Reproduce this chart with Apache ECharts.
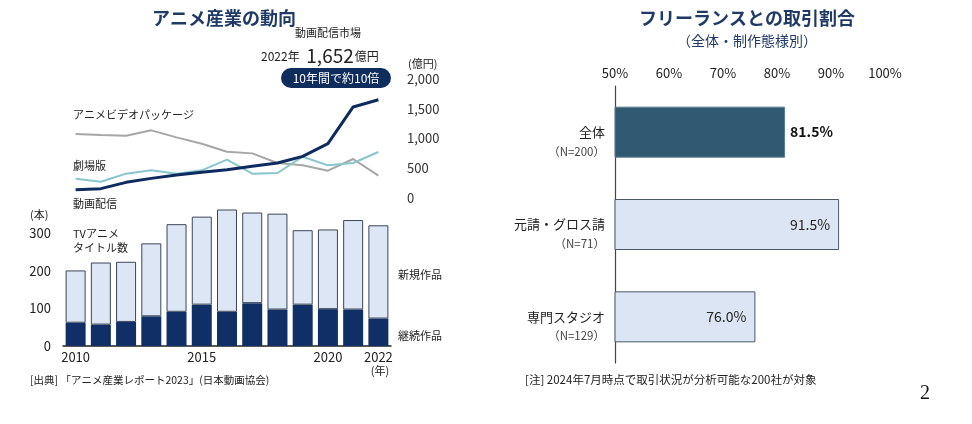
<!DOCTYPE html>
<html><head><meta charset="utf-8">
<script src="https://cdn.jsdelivr.net/npm/echarts@6/dist/echarts.min.js"></script>
<style>html,body{margin:0;padding:0;background:#fff}#c{width:972px;height:424px}</style>
</head><body><div id="c"></div>
<script>
const years = ['2010','2011','2012','2013','2014','2015','2016','2017','2018','2019','2020','2021','2022'];
const streaming = [140, 157, 263, 330, 386, 431, 476, 532, 588, 700, 913, 1530, 1652];
const videoPackage = [1075, 1058, 1047, 1137, 1019, 913, 778, 750, 588, 549, 459, 655, 375];
const theatrical = [325, 274, 409, 465, 409, 465, 644, 409, 420, 694, 549, 588, 773];
const continuing = [62, 57, 64, 79, 91, 110, 91, 114, 97, 110, 98, 97, 73];
const newTitles = [139, 165, 160, 194, 233, 234, 272, 241, 255, 198, 212, 238, 248];
const segments = ['全体', '元請・グロス請', '専門スタジオ'];
const segmentN = ['（N=200）', '（N=71）', '（N=129）'];
const shares = [81.5, 91.5, 76.0];
const pctTicks = [50, 60, 70, 80, 90, 100];

const FONT = '"Noto Sans CJK JP", "Noto Sans", sans-serif';
const NAVY = '#0f2f66';
const chart = echarts.init(document.getElementById('c'));
chart.setOption({
  backgroundColor: '#fff',
  animation: false,
  textStyle: {fontFamily: FONT},
  title: [
    {text: 'アニメ産業の動向', left: 219, top: 4, textAlign: 'center',
     textStyle: {fontSize: 18, fontWeight: 'bold', color: '#1f3a66', fontFamily: FONT}},
    {text: 'フリーランスとの取引割合', left: 742, top: 4, textAlign: 'center',
     textStyle: {fontSize: 18, fontWeight: 'bold', color: '#1f3a66', fontFamily: FONT},
     subtext: '（全体・制作態様別）', itemGap: 7,
     subtextStyle: {fontSize: 14, color: '#1f3a66', fontFamily: FONT}}
  ],
  grid: [
    {left: 63, width: 328, top: 79, height: 119},
    {left: 63, width: 328, top: 195.6, height: 150.4},
    {left: 615, width: 270, top: 86, height: 277}
  ],
  xAxis: [
    {gridIndex: 0, type: 'category', data: years, boundaryGap: true, show: false},
    {gridIndex: 1, type: 'category', data: years, boundaryGap: true,
     axisLine: {lineStyle: {color: '#222', width: 1.5}}, axisTick: {show: false},
     axisLabel: {interval: (i) => i === 0 || i === 5 || i === 10 || i === 12, fontSize: 13, color: '#222', margin: 5}},
    {gridIndex: 2, type: 'value', position: 'top', min: pctTicks[0], max: pctTicks[pctTicks.length - 1], interval: 10,
     axisLine: {show: false}, axisTick: {show: false}, splitLine: {show: false},
     axisLabel: {formatter: '{value}%', fontSize: 13, color: '#222', margin: 6}}
  ],
  yAxis: [
    {gridIndex: 0, type: 'value', position: 'right', min: 0, max: 2000, interval: 500,
     axisLine: {show: false}, axisTick: {show: false}, splitLine: {show: false},
     axisLabel: {fontSize: 13, color: '#333', margin: 16,
       formatter: (v) => v.toLocaleString('en-US')}},
    {gridIndex: 1, type: 'value', min: 0, max: 400, interval: 100,
     axisLine: {show: false}, axisTick: {show: false}, splitLine: {show: false},
     axisLabel: {fontSize: 13, color: '#222', margin: 12, formatter: (v) => v > 300 ? '' : String(v)}},
    {gridIndex: 2, type: 'category', data: segments, inverse: true,
     axisLine: {lineStyle: {color: '#444', width: 1.2}}, axisTick: {show: false},
     axisLabel: {show: true, margin: 10, align: 'right',
       formatter: (v, i) => '{e| }\n{a|' + v + '}\n{b|' + segmentN[i] + '}',
       rich: {e: {fontSize: 12, lineHeight: 19},
              a: {fontSize: 13, lineHeight: 19, color: '#222', fontFamily: FONT, align: 'right'},
              b: {fontSize: 11.5, lineHeight: 19, color: '#444', fontFamily: FONT, align: 'right'}}}}
  ],
  series: [
    {type: 'line', xAxisIndex: 0, yAxisIndex: 0, data: videoPackage, symbol: 'none',
     lineStyle: {color: '#a6a6a6', width: 2}},
    {type: 'line', xAxisIndex: 0, yAxisIndex: 0, data: theatrical, symbol: 'none',
     lineStyle: {color: '#86c6cf', width: 2}},
    {type: 'line', xAxisIndex: 0, yAxisIndex: 0, data: streaming, symbol: 'none',
     lineStyle: {color: '#0d2b5e', width: 3}},
    {type: 'bar', xAxisIndex: 1, yAxisIndex: 1, stack: 'tv', data: continuing, barWidth: 20,
     itemStyle: {color: NAVY}},
    {type: 'bar', xAxisIndex: 1, yAxisIndex: 1, stack: 'tv', data: newTitles, barWidth: 20,
     itemStyle: {color: '#dce6f5', borderColor: '#3a4658', borderWidth: 1}},
    {type: 'bar', xAxisIndex: 2, yAxisIndex: 2, barWidth: 51,
     data: shares.map((v, i) => i === 0 ? {
       value: v, itemStyle: {color: '#2f5a72', borderColor: '#5d7a8c', borderWidth: 1},
       label: {show: true, position: 'right', distance: 5, fontSize: 14, fontWeight: 'bold', color: '#111',
               formatter: (p) => p.value.toFixed(1) + '%'}
     } : {
       value: v, itemStyle: {color: '#dbe5f3', borderColor: '#4a5868', borderWidth: 1},
       label: {show: true, position: 'insideRight', distance: 9, fontSize: 14, color: '#222',
               formatter: (p) => p.value.toFixed(1) + '%'}
     })}
  ],
  graphic: [
    {type: 'text', left: 295, top: 27, style: {text: '動画配信市場', fontSize: 11, fill: '#222', fontFamily: FONT}},
    {type: 'text', x: 261, y: 56, style: {
      text: '{s|2022年 }{b|1,652}{s|億円}', verticalAlign: 'middle', fontFamily: FONT,
      rich: {s: {fontSize: 12, fill: '#222', fontFamily: FONT}, b: {fontSize: 19, fill: '#222', fontFamily: FONT, padding: [0, 1, 0, 4]}}}},
    {type: 'rect', shape: {x: 281, y: 68, width: 110, height: 20, r: 10}, style: {fill: '#0f2d5c'}},
    {type: 'text', x: 336, y: 78, style: {text: '10年間で約10倍', fontSize: 12, fill: '#fff', align: 'center', verticalAlign: 'middle', fontFamily: FONT}},
    {type: 'text', x: 408, y: 64, style: {text: '(億円)', fontSize: 11, fill: '#222', verticalAlign: 'middle', fontFamily: FONT}},
    {type: 'text', x: 73, y: 115, style: {text: 'アニメビデオパッケージ', fontSize: 11, fill: '#222', verticalAlign: 'middle', fontFamily: FONT}},
    {type: 'text', x: 73, y: 166, style: {text: '劇場版', fontSize: 11, fill: '#222', verticalAlign: 'middle', fontFamily: FONT}},
    {type: 'text', x: 73, y: 204, style: {text: '動画配信', fontSize: 11, fill: '#222', verticalAlign: 'middle', fontFamily: FONT}},
    {type: 'text', x: 30, y: 215, style: {text: '(本)', fontSize: 11, fill: '#222', verticalAlign: 'middle', fontFamily: FONT}},
    {type: 'text', x: 73, y: 234, style: {text: 'TVアニメ', fontSize: 11, fill: '#222', verticalAlign: 'middle', fontFamily: FONT}},
    {type: 'text', x: 73, y: 248, style: {text: 'タイトル数', fontSize: 11, fill: '#222', verticalAlign: 'middle', fontFamily: FONT}},
    {type: 'text', x: 398, y: 275, style: {text: '新規作品', fontSize: 11, fill: '#222', verticalAlign: 'middle', fontFamily: FONT}},
    {type: 'text', x: 398, y: 336, style: {text: '継続作品', fontSize: 11, fill: '#222', verticalAlign: 'middle', fontFamily: FONT}},
    {type: 'text', x: 380, y: 371, style: {text: '(年)', fontSize: 11, fill: '#222', align: 'center', verticalAlign: 'middle', fontFamily: FONT}},
    {type: 'text', x: 30, y: 380, style: {text: '[出典] 「アニメ産業レポート2023」(日本動画協会)', fontSize: 10.5, fill: '#222', verticalAlign: 'middle', fontFamily: FONT}},
    {type: 'text', x: 525, y: 380, style: {text: '[注] 2024年7月時点で取引状況が分析可能な200社が対象', fontSize: 11.5, fill: '#222', verticalAlign: 'middle', fontFamily: FONT}},
    {type: 'text', x: 925, y: 394, style: {text: '2', fontSize: 20, fill: '#111', align: 'center', verticalAlign: 'middle', fontFamily: '"Liberation Serif", "DejaVu Serif", serif'}}
  ]
});
</script></body></html>
